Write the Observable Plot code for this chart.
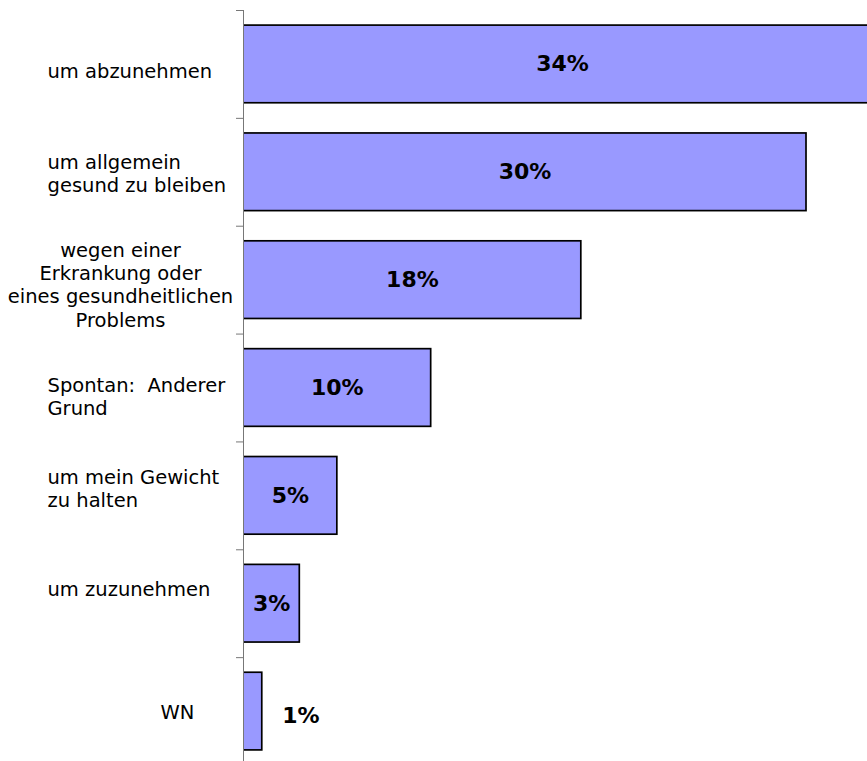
<!DOCTYPE html>
<html><head><meta charset="utf-8">
<script src="https://cdn.jsdelivr.net/npm/d3@7"></script>
<script src="https://cdn.jsdelivr.net/npm/@observablehq/plot@0.6"></script>
<style>
body{margin:0;background:#fff;}
#chart svg{display:block;}
</style>
</head><body><div id="chart"></div>
<script>
const categories = [
  "um abzunehmen",
  "um allgemein\ngesund zu bleiben",
  "wegen einer\nErkrankung oder\neines gesundheitlichen\nProblems",
  "Spontan:  Anderer\nGrund",
  "um mein Gewicht\nzu halten",
  "um zuzunehmen",
  "WN"
];
const values = [34, 30, 18, 10, 5, 3, 1];
const valueLabels = ["34%", "30%", "18%", "10%", "5%", "3%", "1%"];

const data = categories.map((c, i) => ({category: c, value: values[i], label: valueLabels[i], i}));

// layout (style) settings for the category labels
const labelStyle = [
  {anchor: "start", dx: -196, dy: 6},
  {anchor: "start", dx: -196, dy: 1},
  {anchor: "middle", dx: -123, dy: 4},
  {anchor: "start", dx: -196, dy: 8},
  {anchor: "start", dx: -196, dy: -8},
  {anchor: "start", dx: -196, dy: -15},
  {anchor: "middle", dx: -66, dy: 0}
];

const yRange = [10, 765];
const step = (yRange[1] - yRange[0]) / categories.length;

const plot = Plot.plot({
  width: 867,
  height: 761,
  marginLeft: 243,
  marginRight: 0,
  marginTop: 10,
  marginBottom: 0,
  style: {fontFamily: "DejaVu Sans, Verdana, sans-serif", background: "#fff"},
  x: {domain: [0, 33.25], axis: null},
  y: {domain: categories, range: yRange, paddingInner: 0.28, paddingOuter: 0.14, round: false, axis: null},
  marks: [
    Plot.barX(data, {x: "value", y: "category", fill: "#9999ff", stroke: "#000", strokeWidth: 1.7, clip: true}),
    Plot.ruleX([0], {stroke: "#777", strokeWidth: 1}),
    Plot.ruleY(categories, {y: d => d, x1: 0, x2: 0, insetLeft: -7, dy: -step / 2, stroke: "#777", strokeWidth: 1}),
    ...categories.map((c, i) => Plot.text([data[i]], {
      x: 0, y: "category", text: "category",
      textAnchor: labelStyle[i].anchor, dx: labelStyle[i].dx, dy: labelStyle[i].dy,
      lineAnchor: "middle", lineHeight: 1.2, fontSize: 19.5, fill: "#000"
    })),
    Plot.text(data.filter(d => d.value >= 2), {
      x: d => d.value / 2, y: "category", text: "label",
      textAnchor: "middle", fontSize: 22, fontWeight: "bold", fill: "#000"
    }),
    Plot.text(data.filter(d => d.value < 2), {
      x: "value", y: "category", text: "label",
      textAnchor: "start", dx: 20, dy: 4, fontSize: 22, fontWeight: "bold", fill: "#000"
    })
  ]
});
document.getElementById("chart").appendChild(plot);
</script>
</body></html>
